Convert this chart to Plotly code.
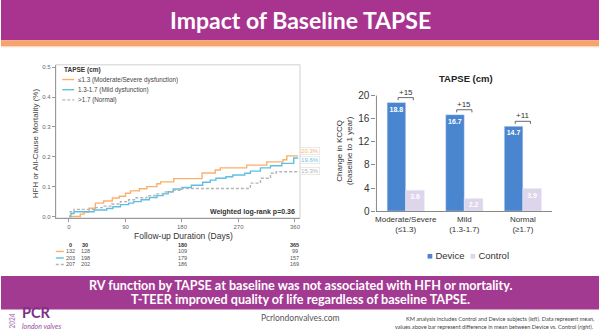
import plotly.graph_objects as go

# ---------------- data ----------------
# Kaplan-Meier style cumulative incidence (fraction) by TAPSE group
km_orange_days = [0, 18, 24, 32, 42, 55, 69, 80, 90, 98, 112, 124, 140, 146, 167, 212, 233, 241, 283, 315, 341, 347, 365]
km_orange_vals = [0, 0.008, 0.015, 0.028, 0.045, 0.052, 0.062, 0.068, 0.078, 0.086, 0.093, 0.100, 0.110, 0.116, 0.127, 0.146, 0.156, 0.163, 0.172, 0.183, 0.190, 0.203, 0.203]

km_blue_days = [0, 3, 8, 40, 60, 70, 82, 95, 103, 115, 128, 140, 150, 158, 166, 180, 195, 213, 225, 234, 250, 261, 280, 289, 305, 321, 339, 358, 365]
km_blue_vals = [0, 0.010, 0.016, 0.022, 0.027, 0.033, 0.040, 0.045, 0.050, 0.056, 0.064, 0.070, 0.076, 0.083, 0.092, 0.097, 0.105, 0.115, 0.122, 0.128, 0.133, 0.139, 0.145, 0.152, 0.163, 0.170, 0.178, 0.196, 0.196]

km_grey_days = [0, 2, 8, 42, 55, 68, 82, 95, 107, 124, 137, 150, 164, 178, 284, 289, 305, 321, 330, 365]
km_grey_vals = [0, 0.016, 0.024, 0.030, 0.035, 0.042, 0.050, 0.056, 0.063, 0.070, 0.076, 0.082, 0.088, 0.094, 0.094, 0.112, 0.128, 0.145, 0.150, 0.153]

km_names = ["≤1.3 (Moderate/Severe dysfunction)", "1.3-1.7 (Mild dysfunction)", ">1.7 (Normal)"]
km_colors = ["#FBB069", "#5FBFE3", "#B5B5B5"]
km_dashes = ["solid", "solid", "3px,2px"]

km_xticks = [0, 90, 180, 270, 360]
km_yticks = [0, 0.1, 0.2, 0.3, 0.4, 0.5]

risk_header = ["0", "30", "180", "365"]
risk_col_days = [2, 26, 181, 360]
risk_rows = [[132, 128, 109, 99], [203, 198, 179, 157], [207, 202, 186, 169]]

# KCCQ bar chart
bar_categories = ["Moderate/Severe<br>(≤1.3)", "Mild<br>(1.3-1.7)", "Normal<br>(≥1.7)"]
device_vals = [18.8, 16.7, 14.7]
control_vals = [3.6, 2.2, 3.9]
diff_labels = ["+15", "+15", "+11"]
bar_yticks = [0, 4, 8, 12, 16, 20]

# ---------------- helpers (pixel -> paper) ----------------
W, H = 600, 336
def px(x):
    return x / W
def py(y):
    return 1 - y / H

FONT = "Liberation Sans"
SLIDE_FONT = "Lato"
PURPLE = "#A8348F"

fig = go.Figure()

# KM curves
km_sets = [(km_orange_days, km_orange_vals), (km_blue_days, km_blue_vals), (km_grey_days, km_grey_vals)]
for (d, v), c, ds, n in zip(km_sets, km_colors, km_dashes, km_names):
    fig.add_trace(go.Scatter(x=d, y=v, mode="lines", name=n,
                             line=dict(shape="hv", color=c, width=1.4, dash=ds),
                             xaxis="x", yaxis="y", showlegend=False, hoverinfo="skip"))

# Bars
bar_x = list(range(len(bar_categories)))
fig.add_trace(go.Bar(x=bar_x, y=device_vals, name="Device", marker_color="#4A86CF",
                     text=[f"{v:.1f}" for v in device_vals], textposition="inside",
                     insidetextanchor="end", textangle=0, constraintext="none",
                     textfont=dict(color="white", size=7, family=FONT, weight="bold"),
                     xaxis="x2", yaxis="y2", showlegend=False))
fig.add_trace(go.Bar(x=bar_x, y=control_vals, name="Control", marker_color="#DDD5EB",
                     text=[f"{v:.1f}" for v in control_vals], textposition="inside",
                     insidetextanchor="end", textangle=0, constraintext="none",
                     textfont=dict(color="white", size=7, family=FONT, weight="bold"),
                     xaxis="x2", yaxis="y2", showlegend=False))

shapes = []
annotations = []

def note(text, x, y, xref="paper", yref="paper", xanchor="center", yanchor="middle", **kw):
    d = dict(text=text, x=x, y=y, xref=xref, yref=yref, xanchor=xanchor, yanchor=yanchor, showarrow=False)
    d.update(kw)
    annotations.append(d)

# slide banners
shapes.append(dict(type="rect", xref="paper", yref="paper", x0=0, x1=1, y0=py(41), y1=1,
                   fillcolor=PURPLE, line_width=0, layer="below"))
shapes.append(dict(type="rect", xref="paper", yref="paper", x0=0, x1=1, y0=py(47), y1=py(41),
                   fillcolor="#F7A36E", line_width=0, layer="below"))
shapes.append(dict(type="rect", xref="paper", yref="paper", x0=0, x1=1, y0=py(48), y1=py(47),
                   fillcolor="#FBD3B8", line_width=0, layer="below"))
shapes.append(dict(type="rect", xref="paper", yref="paper", x0=0, x1=1, y0=py(315), y1=py(281),
                   fillcolor="#A33A92", line_width=0, layer="below"))

note("<b>Impact of Baseline TAPSE</b>", 0.5, py(20), font=dict(family=SLIDE_FONT, size=23, color="white"))
note("<b>RV function by TAPSE at baseline was not associated with HFH or mortality.</b>", 0.5, py(291),
     font=dict(family=SLIDE_FONT, size=12.6, color="white"))
note("<b>T-TEER improved quality of life regardless of baseline TAPSE.</b>", 0.5, py(304.5),
     font=dict(family=SLIDE_FONT, size=12.6, color="white"))

# footer
note("<b>PCR</b>", px(19), py(318.5), xanchor="left", font=dict(family=SLIDE_FONT, size=14.5, color="#7E2F86"))
note("<i>london valves</i>", px(19), py(331.5), xanchor="left",
     font=dict(family=SLIDE_FONT, size=7, color="#9A4E9E"))
note("<b>2024</b>", px(11.5), py(327), textangle=-90, font=dict(family=SLIDE_FONT, size=6.5, color="#B98BBE"))
note("Pcrlondonvalves.com", px(300), py(324), font=dict(family=SLIDE_FONT, size=8.5, color="#555555"))
note("KM analysis includes Control and Device subjects (<i>left</i>). Data represent mean,", px(597), py(324),
     xanchor="right", font=dict(family=SLIDE_FONT, size=5.6, color="#444444"))
note("values above bar represent difference in mean between Device vs. Control (<i>right</i>).", px(597),
     py(332.5), xanchor="right", font=dict(family=SLIDE_FONT, size=5.6, color="#444444"))

# ---------------- KM panel decorations ----------------
shapes.append(dict(type="rect", xref="x domain", yref="y domain", x0=0, x1=1, y0=0, y1=1,
                   line=dict(color="#D0D0D0", width=1), layer="below"))
note("HFH or All-Cause Mortality (%)", px(35), py(146), textangle=-90,
     font=dict(family=FONT, size=8, color="#444444"))
note("Follow-up Duration (Days)", px(183), py(240), font=dict(family=FONT, size=8.5, color="#333333"))
note("<b>Weighted log-rank p=0.36</b>", px(297), py(216), xanchor="right",
     font=dict(family=FONT, size=7, color="#333333"))

# KM legend (inside panel)
note("<b>TAPSE (cm)</b>", px(61), py(71), xanchor="left", font=dict(family=FONT, size=6.5, color="#333333"))
for i, (n, c, ds) in enumerate(zip(km_names, km_colors, km_dashes)):
    yy = [81, 91.3, 101.7][i]
    shapes.append(dict(type="line", xref="paper", yref="paper", x0=px(61.5), x1=px(73.5), y0=py(yy), y1=py(yy),
                       line=dict(color=c, width=1.4, dash=ds)))
    note(n, px(75), py(yy), xanchor="left", font=dict(family=FONT, size=6.3, color="#444444"))

# KM end labels
end_shift = [5, -2, 0]
for (d, v), c, s in zip(km_sets, km_colors, end_shift):
    note(f"{v[-1]*100:.1f}%", 1, v[-1], xref="x domain", yref="y", xanchor="left", yshift=s,
         bgcolor="white", bordercolor="#DDDDDD", borderwidth=0.6, borderpad=0.5,
         font=dict(family=FONT, size=6, color=c))

# Risk table
for lab, d in zip(risk_header, risk_col_days):
    note(f"<b>{lab}</b>", d, py(249), xref="x", font=dict(family=FONT, size=5.5, color="#333333"))
row_y = [256, 262.7, 269.3]
for r, (row, c, ds) in enumerate(zip(risk_rows, km_colors, km_dashes)):
    shapes.append(dict(type="line", xref="paper", yref="paper", x0=px(55), x1=px(63), y0=py(row_y[r]),
                       y1=py(row_y[r]), line=dict(color=c, width=1.4, dash=ds)))
    for val, d in zip(row, risk_col_days):
        note(str(val), d, py(row_y[r]), xref="x", font=dict(family=FONT, size=5.5, color="#555555"))

# ---------------- bar panel decorations ----------------
note("<b>TAPSE (cm)</b>", px(467), py(80), font=dict(family=FONT, size=9.5, color="#222222"))
note("Change in KCCQ<br>(baseline to 1 year)", px(344), py(153), textangle=-90,
     font=dict(family=FONT, size=8, color="#333333"))
shapes.append(dict(type="line", xref="x2 domain", yref="y2", x0=0, x1=0, y0=0, y1=bar_yticks[-1],
                   line=dict(color="#888888", width=1)))
half = 0.13
for i, (dv, cv, lab) in enumerate(zip(device_vals, control_vals, diff_labels)):
    top = max(dv, cv)
    yb = top + 0.85
    yt = top + 0.4
    for (x0, x1, y0, y1) in [(i - half, i + half, yb, yb), (i - half, i - half, yb, yt), (i + half, i + half, yb, yt)]:
        shapes.append(dict(type="line", xref="x2", yref="y2", x0=x0, x1=x1, y0=y0, y1=y1,
                           line=dict(color="#444444", width=0.8)))
    note(lab, i, yb, xref="x2", yref="y2", yanchor="bottom", yshift=-1,
         font=dict(family=FONT, size=8, color="#333333"))

# bar legend (manual)
note("<span style='color:#4A86CF'>■</span> Device", px(425), py(260), xanchor="left",
     font=dict(family=FONT, size=9.5, color="#333333"))
note("<span style='color:#DDD5EB'>■</span> Control", px(469), py(260), xanchor="left",
     font=dict(family=FONT, size=9.5, color="#333333"))

fig.update_layout(
    width=W, height=H, margin=dict(l=0, r=0, t=0, b=0),
    paper_bgcolor="white", plot_bgcolor="white",
    barmode="group", bargap=0.364, bargroupgap=0,
    showlegend=False,
    shapes=shapes, annotations=annotations,
    xaxis=dict(domain=[px(55), px(300)], range=[-21, 368], tickvals=km_xticks, ticks="outside",
               ticklen=3, tickcolor="#999999", tickfont=dict(family=FONT, size=6, color="#666666"),
               showline=True, linecolor="#999999", linewidth=1, showgrid=False, zeroline=False, anchor="y"),
    yaxis=dict(domain=[py(222), py(66)], range=[-0.005, 0.508], tickvals=km_yticks,
               ticktext=[f"{t:.1f}" for t in km_yticks], ticks="outside", ticklen=3, tickcolor="#999999",
               tickfont=dict(family=FONT, size=6, color="#666666"), showline=True, linecolor="#999999",
               linewidth=1, showgrid=False, zeroline=False, anchor="x"),
    xaxis2=dict(domain=[px(376.7), px(553)], range=[-0.5, 2.5], tickvals=bar_x, ticktext=bar_categories,
                ticks="", tickfont=dict(family=FONT, size=8, color="#333333"), showline=True,
                linecolor="#888888", linewidth=1, showgrid=False, zeroline=False, anchor="y2"),
    yaxis2=dict(domain=[py(215), py(88.5)], range=[0, 21.5], tickvals=bar_yticks, ticks="outside",
                ticklen=4, tickcolor="#888888", tickfont=dict(family=FONT, size=10, color="#333333"),
                showline=False, showgrid=False, zeroline=False, anchor="x2"),
)

fig.write_html("out.html")
